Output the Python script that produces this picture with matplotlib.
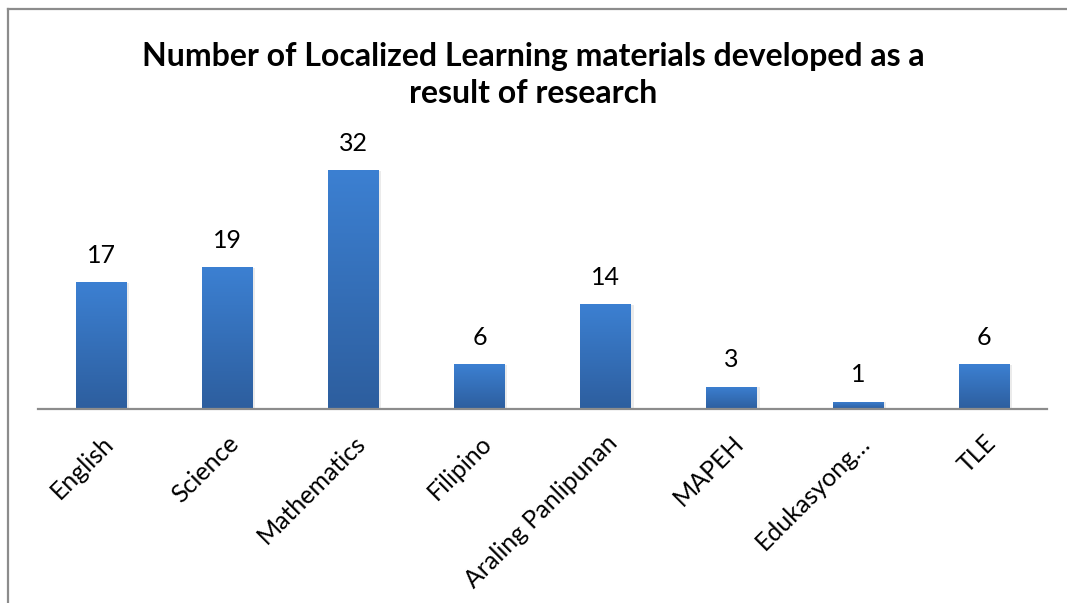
import matplotlib.pyplot as plt
import numpy as np
from matplotlib.lines import Line2D
from matplotlib.colors import LinearSegmentedColormap

subjects = ['English', 'Science', 'Mathematics', 'Filipino', 'Araling Panlipunan',
            'MAPEH', 'Edukasyong\u2026', 'TLE']
counts = [17, 19, 32, 6, 14, 3, 1, 6]
title = 'Number of Localized Learning materials developed as a\nresult of research'

plt.rcParams['font.family'] = ['Lato', 'DejaVu Sans']

fig = plt.figure(figsize=(10.67, 6.03), dpi=100)
ax = fig.add_axes([38 / 1067, 1 - 409 / 603, 1009 / 1067, 35 * 7.47 / 603])

x = np.arange(len(subjects))
bars = ax.bar(x, counts, width=0.40, color='#3470BC', zorder=2)

# vertical gradient on each bar, light at top, dark at bottom
grad = np.linspace(0, 1, 256).reshape(-1, 1)
cmap = LinearSegmentedColormap.from_list('bar', ['#2D5E9E', '#3C80D2'])
for b in bars:
    bx, by = b.get_x(), b.get_y()
    w, h = b.get_width(), b.get_height()
    # faint shadow
    ax.bar(bx + w / 2 + 0.012, h, width=w + 0.02, bottom=-0.08, color='#000000', alpha=0.08, zorder=1)
    im = ax.imshow(grad, extent=[bx, bx + w, by, by + h], origin='lower', cmap=cmap,
                   aspect='auto', zorder=3)
    im.set_clip_path(b)

for xi, v in zip(x, counts):
    ax.text(xi, v + 3.6, str(v), ha='center', va='center', fontsize=18, color='#000000')

ax.set_xlim(-0.5, len(subjects) - 0.5)
ax.set_ylim(0, 35)
ax.set_xticks(x)
ax.set_xticklabels(subjects, rotation=45, ha='right', rotation_mode='anchor', fontsize=18)
ax.tick_params(axis='x', length=0, pad=16)
ax.set_yticks([])
for s in ['top', 'left', 'right']:
    ax.spines[s].set_visible(False)
ax.spines['bottom'].set_color('#8C8C8C')
ax.spines['bottom'].set_linewidth(1.6)
ax.spines['bottom'].set_zorder(4)

fig.text(0.5, 1 - 75 / 603, title, ha='center', va='center', fontsize=23,
         fontweight='bold', linespacing=1.35)

# chart area border (cropped on the right and bottom)
fig.add_artist(Line2D([8 / 1067, 8 / 1067], [0, 1 - 9 / 603], color='#8C8C8C', lw=1.6))
fig.add_artist(Line2D([8 / 1067, 1], [1 - 9 / 603, 1 - 9 / 603], color='#8C8C8C', lw=1.6))

fig.savefig('out.png', dpi=100)
